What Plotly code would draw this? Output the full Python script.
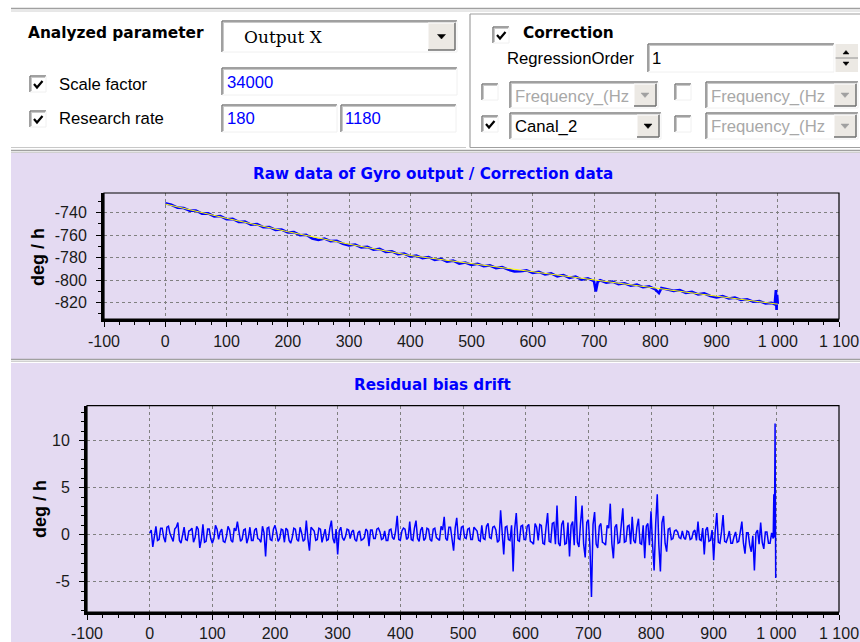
import plotly.graph_objects as go

# ---------------- data ----------------
x_ticks = [-100, 0, 100, 200, 300, 400, 500, 600, 700, 800, 900, 1000, 1100]
x_labels = ["-100", "0", "100", "200", "300", "400", "500", "600", "700", "800", "900", "1 000", "1 100"]
top_y_ticks = [-820, -800, -780, -760, -740]
top_y_labels = ["-820", "-800", "-780", "-760", "-740"]
bot_y_ticks = [-5, 0, 5, 10]
bot_y_labels = ["-5", "0", "5", "10"]

# raw gyro output (deg/h)
raw_t = (list(range(0, 701, 10)) + [703, 706] + list(range(710, 801, 10)) + [806]
         + list(range(810, 991, 10)) + [995, 997, 998, 999, 1000])
raw_v = [
    -731.5, -733.0, -735.5, -735.8, -738.2, -738.0, -740.8, -740.6, -743.4, -743.0,
    -745.8, -745.5, -748.3, -748.0, -750.6, -750.2, -752.9, -752.8, -755.3, -755.0,
    -757.6, -757.3, -760.0, -759.6, -763.0, -764.2, -763.0, -765.3, -765.0, -767.6,
    -769.0, -768.3, -770.8, -770.4, -772.9, -772.2, -774.8, -774.4, -776.9, -776.3,
    -778.9, -778.2, -780.4, -779.5, -781.9, -781.0, -783.5, -782.6, -785.2, -784.3,
    -786.4, -785.4, -787.6, -786.9, -789.2, -788.4, -790.6, -792.3, -792.0, -791.3,
    -793.5, -792.6, -794.9, -794.0, -796.6, -795.4, -797.9, -796.8, -799.5, -798.3,
    -800.9,
    -810.0, -801.5,
    -800.0, -802.1, -801.3, -803.5, -802.7, -804.9, -804.0, -806.3, -805.5, -808.2,
    -811.5,
    -807.0, -808.0, -809.5, -808.9, -811.2, -810.4, -812.6, -811.8, -814.0, -815.3,
    -814.2, -816.3, -815.5, -817.6, -817.0, -819.2, -818.6, -820.7, -820.2,
    -821.5, -808.8, -826.5, -813.0, -821.0,
]

# correction (regression) curve
fit_t = [0, 100, 200, 300, 400, 500, 600, 700, 800, 900, 1000]
fit_v = [-732.3, -745.0, -756.9, -768.0, -778.0, -785.4, -792.6, -799.8, -807.0, -814.2, -821.3]

# residual bias drift (deg/h), sampled every 2.5 s, plus the final samples
res_t = [t / 2 for t in range(0, 1986, 5)] + [995, 996, 997, 998, 999]
res_v = [
    0.2, 0.5, -1.3, -0.2, 0.9, -0.6, -0.5, 0.7, 0.7, -0.3, -0.8, 0.8, 0.9, 0.1, -0.4, -0.7, 0.6, 0.8, 1.3, -0.6,
    -0.9, -0.2, 0.8, -0.5, -0.6, 0.4, 0.5, 0.7, -0.8, -0.3, 0.9, 0.6, -1.4, -0.5, 1.1, -0.8, -0.7, 0.6, 0.6, -0.4,
    -0.9, -0.4, 1.0, 0.6, -0.5, 0.3, 0.6, -0.7, -0.8, -0.2, 0.9, 0.5, -0.6, -0.8, 0.7, 0.4, 1.4, 0.3, -0.7, -0.5,
    0.5, 0.6, -0.9, -0.3, 0.8, -0.6, -0.6, 0.5, 0.7, -0.4, -0.5, -0.8, 0.9, 0.2, -2.3, 0.7, 0.8, -0.5, -0.6, 0.6,
    1.0, 0.3, -0.7, -0.4, 0.6, 0.5, -0.8, 0.7, 0.5, -0.6, -0.9, -0.3, 0.7, 0.6, -0.5, -0.7, 0.8, 0.2, -0.7, -0.5,
    1.5, -0.4, -1.7, 0.8, 0.6, 0.4, -0.6, -0.5, 0.7, 0.6, -0.8, -0.2, 0.6, -0.6, -0.5, 0.7, 1.5, -0.4, -0.9, 0.6,
    -2.1, 0.4, 0.8, -0.3, -0.6, -0.2, 0.6, 0.5, -0.4, 0.3, 0.5, -0.5, -0.7, 0.2, 0.4, -0.6, -0.5, -0.3, 0.6, 0.4,
    -1.2, 0.5, 0.5, -0.4, -0.4, 0.6, 0.7, 0.3, -0.5, -0.4, 0.4, -0.6, -0.6, 0.5, 0.6, -0.3, -0.5, 0.4, 2.0, -0.5,
    -0.6, 0.4, 0.7, 0.6, -0.5, -0.3, 1.4, -0.5, -0.6, 0.7, 1.5, -0.4, -0.7, 0.5, 0.8, -0.6, -0.4, 0.7, 0.6, -0.5,
    -0.7, 0.6, 0.7, -0.3, -0.5, -0.6, 0.9, 0.5, 1.9, -0.4, -0.6, 0.8, 0.8, -0.6, -1.7, 0.7, 1.8, -0.4, -0.5, 0.8,
    0.9, -0.3, -0.4, 0.6, 0.7, -0.5, -0.5, 0.8, 0.6, 0.4, -0.6, -0.7, 1.0, -0.4, -0.5, 0.9, 1.2, -0.3, -0.4, 0.8,
    0.9, 0.5, -0.8, -0.6, 2.6, -0.5, -2.1, 0.8, 0.9, -0.5, -0.6, 1.0, -3.9, 0.6, 2.3, -0.6, -0.7, 0.9, 1.0, -0.5,
    -0.5, 0.9, 1.1, -0.7, -0.8, -1.0, 1.2, 0.8, -0.6, 1.1, 1.0, -0.9, -1.0, 0.8, 2.3, -0.7, -0.8, 1.2, 1.3, -1.0,
    3.1, -0.9, -1.2, 1.1, 1.5, -1.0, -0.9, 1.3, -2.3, 1.0, 1.4, -1.1, 4.1, -0.8, -1.3, 1.2, 3.1, -1.0, -2.4, 1.3,
    1.6, -1.2, -6.6, 1.1, 2.4, -1.0, -1.4, 0.9, 1.2, -0.8, -0.9, -1.1, 1.0, 0.7, 3.3, -0.9, -2.5, 0.8, 1.1, -0.9,
    -0.8, 1.0, 2.8, -0.8, -0.7, 0.9, 1.0, -1.0, 1.9, -0.6, -0.9, 0.8, 1.7, -0.9, -1.0, 1.0, -2.5, 0.9, 1.2, -1.1,
    2.5, -1.0, -3.8, 1.2, 4.3, -1.1, -3.9, 1.3, 2.0, -0.9, -1.8, 0.6, 0.7, -0.5, -0.4, 0.4, 0.5, 0.3, -0.3, -0.4,
    0.4, -0.3, -0.5, 0.4, 0.3, -0.5, -0.4, 0.3, 0.5, -0.6, 1.4, -0.5, -0.6, 0.7, -2.1, 0.5, 0.8, -0.7, -0.6, 0.5,
    -2.7, 0.4, 2.3, -0.8, -0.9, 0.3, 2.1, -0.7, -0.8, -0.3, 0.4, -0.9, -0.9, -0.2, 0.3, -0.8, -0.7, 0.3, 1.4, -0.9,
    -2.0, 0.2, 0.2, -1.1, -1.8, -0.1, -3.8, 0.2, 0.5, -1.0, 1.3, -0.8, -1.5, 0.3, 0.3, -0.9, -0.9, 0.2,
    -0.4, 4.3, -0.3, 11.8, -4.6,
]

# ---------------- page geometry helpers ----------------
W, H = 860, 642
LAV = "#e4daf2"


def px(x):
    return x / W


def py(y):
    return 1 - y / H


shapes = []
annotations = []


def rect(x0, y0, x1, y1, fill="rgba(0,0,0,0)", line=None, lw=1, layer="above"):
    shapes.append(dict(type="rect", xref="paper", yref="paper",
                       x0=px(x0), x1=px(x1), y0=py(y1), y1=py(y0),
                       fillcolor=fill,
                       line=dict(color=line if line else "rgba(0,0,0,0)", width=lw if line else 0),
                       layer=layer))


def seg(x0, y0, x1, y1, color, lw=1, layer="above"):
    shapes.append(dict(type="line", xref="paper", yref="paper",
                       x0=px(x0), x1=px(x1), y0=py(y0), y1=py(y1),
                       line=dict(color=color, width=lw), layer=layer))


def poly(pts, color, fill=None, lw=1.0, closed=False):
    d = "M " + " L ".join(f"{px(a):.5f},{py(b):.5f}" for a, b in pts)
    if closed:
        d += " Z"
    shapes.append(dict(type="path", xref="paper", yref="paper", path=d,
                       line=dict(color=color, width=lw),
                       fillcolor=fill if fill else "rgba(0,0,0,0)", layer="above"))


def text(x, y, s, size=16.7, color="#000000", family="Liberation Sans, Arial, sans-serif",
         bold=False, anchor="left", angle=0):
    if bold:
        s = "<b>" + s + "</b>"
    annotations.append(dict(text=s, xref="paper", yref="paper", x=px(x), y=py(y),
                            xanchor=anchor, yanchor="middle", showarrow=False,
                            textangle=angle,
                            font=dict(size=size, color=color, family=family)))


def sunken(x0, y0, x1, y1, fill="#ffffff"):
    rect(x0, y0, x1, y1, fill=fill)
    seg(x0, y0, x1, y0, "#808080", 1.5)
    seg(x0, y0, x0, y1, "#808080", 1.5)
    seg(x0 + 1, y0 + 1.5, x1 - 1, y0 + 1.5, "#c8c8c8", 1)
    seg(x0 + 1.5, y0 + 1, x0 + 1.5, y1 - 1, "#c8c8c8", 1)
    seg(x0, y1, x1, y1, "#f0f0f0", 1)
    seg(x1, y0, x1, y1, "#f0f0f0", 1)


def button(x0, y0, x1, y1, arrow="#000000"):
    rect(x0, y0, x1, y1, fill="#ece9e4")
    seg(x0, y0, x1, y0, "#ffffff", 1)
    seg(x0, y0, x0, y1, "#ffffff", 1)
    seg(x0, y1, x1, y1, "#707070", 1.5)
    seg(x1, y0, x1, y1, "#707070", 1.5)
    cx, cy = (x0 + x1) / 2, (y0 + y1) / 2
    poly([(cx - 4, cy - 2), (cx + 4, cy - 2), (cx, cy + 2.5)], arrow, fill=arrow, lw=0.5, closed=True)


def checkbox(x0, y0, checked, size=16):
    sunken(x0, y0, x0 + size, y0 + size, fill="#ffffff")
    if checked:
        poly([(x0 + 4, y0 + 8), (x0 + 7, y0 + 11.5), (x0 + 12.5, y0 + 5)], "#000000", lw=2.2)


def combo(x0, y0, x1, y1, label, enabled=True):
    sunken(x0, y0, x1, y1)
    bw = 22
    button(x1 - bw - 2, y0 + 2, x1 - 2, y1 - 2, arrow="#000000" if enabled else "#a0a0a0")
    text(x0 + 3, (y0 + y1) / 2 + 1, label, color="#000000" if enabled else "#a8a8a8")


# ---------------- backgrounds / panel frames ----------------
rect(11, 153, 860, 359, fill=LAV, layer="below")
rect(11, 363, 860, 642, fill=LAV, layer="below")
seg(11, 8.5, 860, 8.5, "#a0a0a0", 1.5)
seg(11, 11, 860, 11, "#d0d0d0", 1)
seg(11, 147.5, 466, 147.5, "#c8c8c8", 1)
seg(470, 14, 860, 14, "#a0a0a0", 1.2)
seg(470, 14, 470, 147.5, "#a0a0a0", 1.2)
seg(471.5, 15.5, 471.5, 146, "#ffffff", 1)
seg(470, 147.5, 860, 147.5, "#a0a0a0", 1)
seg(11, 150.5, 860, 150.5, "#a0a0a0", 1.5)
seg(11, 152.5, 860, 152.5, "#cfcfcf", 1)
seg(11, 359.5, 860, 359.5, "#a0a0a0", 1.5)
seg(11, 361.5, 860, 361.5, "#d0d0d0", 1)

# ---------------- control area ----------------
BOLD_UI = "DejaVu Sans, Verdana, sans-serif"
text(26, 33, "Analyzed parameter", size=15.4, bold=True, family=BOLD_UI)
sunken(222, 21, 457, 52)
button(428, 23, 455, 50)
text(242, 37, "Output X", size=17, family="DejaVu Serif, serif")

checkbox(30, 76, True)
text(57, 84, "Scale factor")
sunken(222, 68, 457, 95)
text(225, 82, "34000", color="#0000ff")

checkbox(30, 111, True)
text(57, 119, "Research rate")
sunken(222, 105, 337, 132)
text(225, 118, "180", color="#0000ff")
sunken(341, 105, 456, 132)
text(343, 118, "1180", color="#0000ff")

checkbox(493, 27, True)
text(521, 33, "Correction", size=15.4, bold=True, family=BOLD_UI)
text(505, 58, "RegressionOrder")
sunken(648, 44, 834, 72)
text(650, 58, "1")
# spinner
rect(835, 44, 858, 72, fill="#ece9e4")
seg(835, 58, 858, 58, "#909090", 1)
seg(835, 44, 835, 72, "#ffffff", 1)
poly([(843, 54), (849, 54), (846, 50.5)], "#000000", fill="#000000", lw=0.5, closed=True)
poly([(843, 62), (849, 62), (846, 65.5)], "#000000", fill="#000000", lw=0.5, closed=True)

checkbox(482, 84, False)
combo(510, 82, 658, 108, "Frequency_(Hz", enabled=False)
checkbox(675, 84, False)
combo(706, 82, 858, 108, "Frequency_(Hz", enabled=False)
checkbox(482, 116, True)
combo(510, 113, 661, 139, "Canal_2", enabled=True)
checkbox(675, 116, False)
combo(706, 113, 858, 139, "Frequency_(Hz", enabled=False)

# ---------------- chart titles ----------------
text(433, 174, "Raw data of Gyro output / Correction data", size=15.2, bold=True,
     color="#0000ff", family=BOLD_UI, anchor="center")
text(433, 385, "Residual bias drift", size=15.2, bold=True, color="#0000ff",
     family=BOLD_UI, anchor="center")
text(38, 257, "deg / h", size=18, bold=True, anchor="center", angle=-90)
text(40, 509, "deg / h", size=18, bold=True, anchor="center", angle=-90)

# plot frames (thin top/right borders)
for xr, yr in (("x domain", "y domain"), ("x2 domain", "y2 domain")):
    shapes.append(dict(type="rect", xref=xr, yref=yr, x0=0, x1=1, y0=0, y1=1,
                       line=dict(color="#000000", width=1.2), layer="above"))

# ---------------- traces ----------------
fig = go.Figure()
fig.add_trace(go.Scatter(x=raw_t, y=raw_v, mode="lines", line=dict(color="#0000ff", width=2.6),
                         xaxis="x", yaxis="y", showlegend=False, hoverinfo="skip"))
fig.add_trace(go.Scatter(x=fit_t, y=fit_v, mode="lines", line=dict(color="#ffff00", width=1),
                         xaxis="x", yaxis="y", showlegend=False, hoverinfo="skip"))
fig.add_trace(go.Scatter(x=res_t, y=res_v, mode="lines", line=dict(color="#0000ff", width=1.5),
                         xaxis="x2", yaxis="y2", showlegend=False, hoverinfo="skip"))

tickfont = dict(family="Liberation Sans, Arial, sans-serif", size=16, color="#1a1a1a")
grid = dict(showgrid=True, gridcolor="#808080", griddash="3px,3px", gridwidth=1, zeroline=False,
            showline=True, linecolor="#000000", linewidth=3, ticks="outside", ticklen=5,
            tickwidth=1, tickcolor="#000000", tickfont=tickfont, fixedrange=True,
            automargin=False)


def xax(domain, anchor, standoff):
    return dict(domain=domain, anchor=anchor, range=[-100, 1100], tickmode="array",
                tickvals=x_ticks, ticktext=x_labels, ticklabelstandoff=standoff,
                minor=dict(tickmode="linear", tick0=0, dtick=25, ticks="outside", ticklen=3,
                           tickcolor="#000000", showgrid=False), **grid)


fig.update_layout(
    width=W, height=H, autosize=False,
    margin=dict(l=0, r=0, t=0, b=0, pad=0),
    paper_bgcolor="#ffffff", plot_bgcolor=LAV,
    xaxis=xax([px(104), px(839)], "y", 1),
    yaxis=dict(domain=[py(319), py(193)], anchor="x", range=[-834.5, -722.5], tickmode="array",
               tickvals=top_y_ticks, ticktext=top_y_labels, ticklabelstandoff=6,
               minor=dict(tickmode="linear", tick0=0, dtick=10, ticks="outside", ticklen=3,
                          tickcolor="#000000", showgrid=False), **grid),
    xaxis2=xax([px(87), px(839)], "y2", 0),
    yaxis2=dict(domain=[py(612), py(405.7)], anchor="x2", range=[-8.2, 13.7], tickmode="array",
                tickvals=bot_y_ticks, ticktext=bot_y_labels, ticklabelstandoff=6,
                minor=dict(tickmode="linear", tick0=0, dtick=1, ticks="outside", ticklen=3,
                           tickcolor="#000000", showgrid=False), **grid),
    shapes=shapes, annotations=annotations,
    showlegend=False,
)

fig.write_html("out.html", config={"displayModeBar": False},
               post_script="document.body.style.margin='0px';document.body.style.overflow='hidden';")
